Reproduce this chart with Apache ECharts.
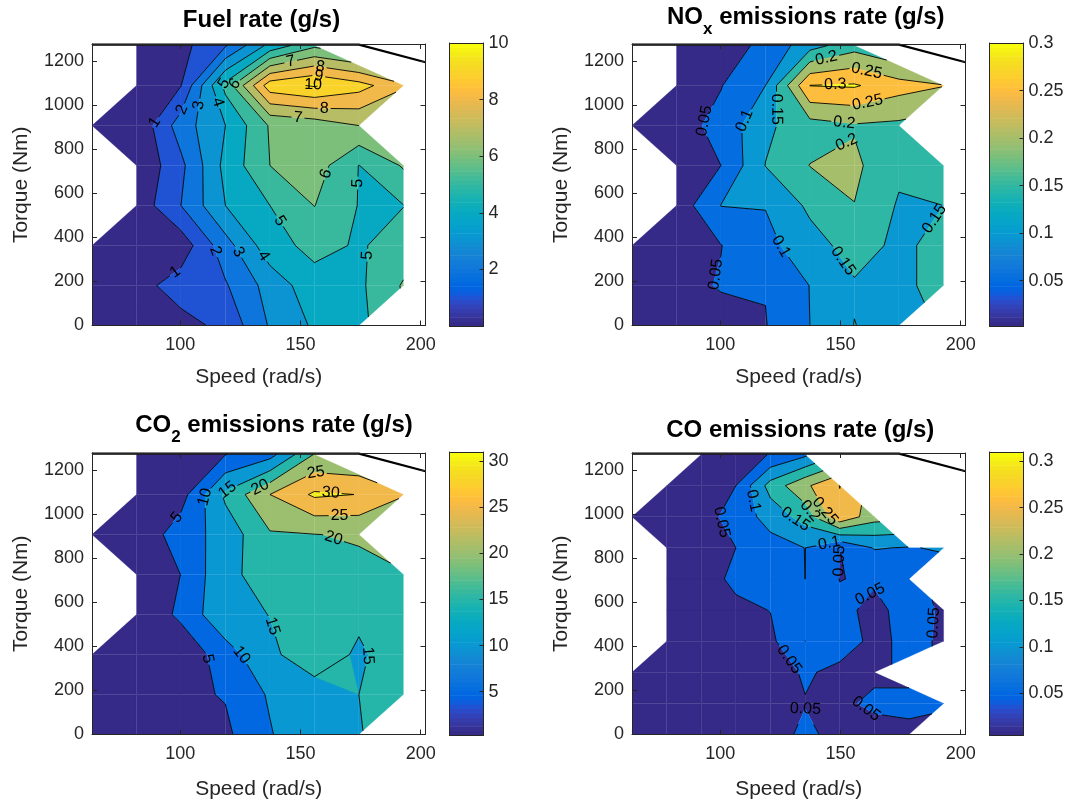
<!DOCTYPE html>
<html>
<head>
<meta charset="utf-8">
<title>Engine map contours</title>
<script src="https://cdn.jsdelivr.net/npm/echarts@6.0.0/dist/echarts.min.js"></script>
<style>
html, body { margin: 0; padding: 0; background: #ffffff; }
#chart { width: 1068px; height: 805px; }
</style>
</head>
<body>
<div id="chart"></div>
<script>
// ---------------- engine map data ----------------
// Speed (rad/s) and torque (Nm) breakpoints of the fuel / NOx / CO2 maps
const mapSpeed = [63.3, 81.8, 100.3, 118.8, 137.3, 155.8, 174.3, 192.8];
const mapTorque = [0, 181.4, 362.9, 544.3, 725.7, 907.1, 1088.6, 1270];

// one row per torque breakpoint (bottom to top), one column per speed; null = outside the map
const fuelRate = [
  [0.3, 0.5, 0.64, 1.27, 3.1, 4.15, 4.7, null],
  [0.3, 0.6, 1.48, 1.9, 3.4, 4.6, 4.8, 6.1],
  [0.3, 0.6, 0.4, 2.6, 4.6, 5.3, 4.9, 5.4],
  [null, 0.35, 2.0, 4.0, 5.0, 6.02, 4.96, 4.98],
  [null, 0.1, 1.75, 4.3, 6.0, 6.5, 4.98, 6.1],
  [0.1, 0.15, 2.5, 4.0, 6.1, 6.4, 7.0, null],
  [null, 0.5, 0.97, 5.3, 9.6, 10.1, 9.4, 8.2],
  [null, 0.5, 0.7, 1.9, 4.3, 5.8, null, null]
];
const noxRate = [
  [0.01, 0.02, 0.035, 0.048, 0.1, 0.151, 0.13, null],
  [0.012, 0.037, 0.053, 0.052, 0.101, 0.145, 0.14, 0.165],
  [0.013, 0.025, 0.049, 0.085, 0.13, 0.17, 0.14, 0.165],
  [null, 0.019, 0.101, 0.102, 0.16, 0.199, 0.145, 0.15],
  [null, 0.03, 0.05, 0.151, 0.201, 0.21, 0.16, 0.17],
  [0.01, 0.03, 0.065, 0.14, 0.18, 0.1955, 0.19, null],
  [null, 0.03, 0.048, 0.1, 0.301, 0.305, 0.27, 0.252],
  [null, 0.02, 0.03, 0.06, 0.13, 0.18, null, null]
];
const co2Rate = [
  [1.0, 1.6, 3.0, 4.06, 9.6, 14.5, 14.8, null],
  [1.0, 1.9, 4.0, 5.3, 10.6, 13.8, 15.0, 17.0],
  [1.0, 2.0, 1.5, 7.5, 14.5, 16.5, 14.6, 16.5],
  [null, 1.0, 6.0, 14.2, 15.05, 17.5, 15.5, 17.5],
  [null, 1.0, 5.05, 14.0, 16.7, 18.5, 18.8, 19.8],
  [0.5, 1.25, 7.5, 12.0, 19.5, 19.9, 20.5, null],
  [null, 1.5, 3.0, 16.0, 25.0, 30.8, 29.9, 25.5],
  [null, 1.5, 2.5, 4.9, 8.2, 20.3, null, null]
];

// CO map uses its own, finer breakpoints
const coSpeed = [63.3, 77.7, 92.1, 106.5, 120.9, 135.3, 149.7, 164.1, 178.5, 192.9];
const coTorque = [0, 141.1, 282.2, 423.3, 564.4, 705.6, 846.7, 987.8, 1128.9, 1270];
const coRate = [
  [0.02, 0.02, 0.02, 0.02, 0.03, 0.06, 0.035, 0.03, 0.04, null],
  [0.02, 0.02, 0.02, 0.02, 0.03, 0.048, 0.04, 0.06, 0.06, 0.055],
  [0.02, 0.02, 0.02, 0.02, 0.03, 0.055, 0.04, 0.04, null, null],
  [null, 0.02, 0.02, 0.03, 0.04, 0.1002, 0.07, 0.04, 0.06, 0.045],
  [null, 0.02, 0.02, 0.04, 0.051, 0.08, 0.06, 0.04, 0.065, 0.045],
  [null, 0.02, 0.03, 0.06, 0.07, 0.1001, 0.049, 0.055, 0.06, null],
  [null, 0.02, 0.03, 0.05, 0.08, 0.1005, 0.0499, 0.103, 0.097, 0.106],
  [0.02, 0.02, 0.03, 0.07, 0.12, 0.17, 0.29, 0.22, null, null],
  [null, 0.02, 0.03, 0.05, 0.17, 0.24, 0.301, null, null, null],
  [null, null, 0.02, 0.03, 0.052, 0.09, null, null, null, null]
];

// contour levels
const fuelLevels = [1, 2, 3, 4, 5, 6, 7, 8, 9, 10];
const noxLevels = [0.05, 0.1, 0.15, 0.2, 0.25, 0.3];
const co2Levels = [5, 10, 15, 20, 25, 30];
const coLevels = [0.05, 0.1, 0.15, 0.2, 0.25, 0.3];

// colour limits and colorbar ticks
const fuelColorRange = [0, 10];
const noxColorRange = [0.0024, 0.3];
const co2ColorRange = [0.3, 31];
const coColorRange = [0.005, 0.31];
const fuelBarTicks = [2, 4, 6, 8, 10];
const noxBarTicks = [0.05, 0.1, 0.15, 0.2, 0.25, 0.3];
const co2BarTicks = [5, 10, 15, 20, 25, 30];
const coBarTicks = [0.05, 0.1, 0.15, 0.2, 0.25, 0.3];

// axis ticks
const speedTicks = [100, 150, 200];
const torqueTicks = [0, 200, 400, 600, 800, 1000, 1200];
const speedRange = [63.3, 202];
const torqueRange = [0, 1277];

// full-load torque curve
const maxTorqueSpeed = [63.3, 174.3, 202];
const maxTorque = [1274, 1274, 1194];

// parula colormap, 64 entries
const PARULA = [
[0.2081,0.1663,0.5292],[0.2116,0.1898,0.5777],[0.2123,0.2138,0.6270],[0.2081,0.2386,0.6771],
[0.1959,0.2645,0.7279],[0.1707,0.2919,0.7792],[0.1253,0.3242,0.8303],[0.0591,0.3598,0.8683],
[0.0117,0.3875,0.8820],[0.0060,0.4086,0.8828],[0.0165,0.4266,0.8786],[0.0329,0.4430,0.8720],
[0.0498,0.4586,0.8641],[0.0629,0.4737,0.8554],[0.0723,0.4887,0.8467],[0.0779,0.5040,0.8384],
[0.0793,0.5200,0.8312],[0.0749,0.5375,0.8263],[0.0641,0.5570,0.8240],[0.0488,0.5772,0.8228],
[0.0343,0.5966,0.8199],[0.0265,0.6137,0.8135],[0.0239,0.6287,0.8038],[0.0231,0.6418,0.7913],
[0.0228,0.6535,0.7768],[0.0267,0.6642,0.7607],[0.0384,0.6743,0.7436],[0.0590,0.6838,0.7254],
[0.0843,0.6928,0.7062],[0.1133,0.7015,0.6859],[0.1453,0.7098,0.6646],[0.1801,0.7177,0.6424],
[0.2178,0.7250,0.6193],[0.2586,0.7317,0.5954],[0.3022,0.7376,0.5712],[0.3482,0.7424,0.5473],
[0.3953,0.7459,0.5244],[0.4420,0.7481,0.5033],[0.4871,0.7491,0.4840],[0.5300,0.7491,0.4661],
[0.5709,0.7485,0.4494],[0.6099,0.7473,0.4337],[0.6473,0.7456,0.4188],[0.6834,0.7435,0.4044],
[0.7184,0.7411,0.3905],[0.7525,0.7384,0.3768],[0.7858,0.7356,0.3633],[0.8185,0.7327,0.3498],
[0.8507,0.7299,0.3360],[0.8824,0.7274,0.3217],[0.9139,0.7258,0.3063],[0.9450,0.7261,0.2886],
[0.9739,0.7314,0.2666],[0.9938,0.7455,0.2403],[0.9990,0.7653,0.2164],[0.9955,0.7861,0.1967],
[0.9880,0.8066,0.1794],[0.9789,0.8271,0.1633],[0.9697,0.8481,0.1475],[0.9626,0.8705,0.1309],
[0.9589,0.8949,0.1132],[0.9598,0.9218,0.0948],[0.9661,0.9514,0.0755],[0.9763,0.9831,0.0538]
];

// ---------------- styling ----------------
const FONT = '"Liberation Sans", Arial, Helvetica, sans-serif';
const AX = '#262626';
const LABEL_FONT_SIZE = 16;
const LABEL_SPACING = 160;
const PLOT_W = 333.5, PLOT_H = 281.5, CB_W = 34;

const panels = [
  { title: [{t: 'Fuel rate (g/s)'}], speed: mapSpeed, torque: mapTorque, z: fuelRate,
    levels: fuelLevels, crange: fuelColorRange, barTicks: fuelBarTicks,
    left: 92, top: 44, cbLeft: 449.5, titleX: 261.5, titleY: 20.7, nameGapX: 41 },
  { title: [{t: 'NO'}, {t: 'x', sub: true}, {t: ' emissions rate (g/s)'}], speed: mapSpeed, torque: mapTorque, z: noxRate,
    levels: noxLevels, crange: noxColorRange, barTicks: noxBarTicks,
    left: 632, top: 44, cbLeft: 989.5, titleX: 805.8, titleY: 17.4, nameGapX: 41 },
  { title: [{t: 'CO'}, {t: '2', sub: true}, {t: ' emissions rate (g/s)'}], speed: mapSpeed, torque: mapTorque, z: co2Rate,
    levels: co2Levels, crange: co2ColorRange, barTicks: co2BarTicks,
    left: 92, top: 453, cbLeft: 449.5, titleX: 274, titleY: 425.7, nameGapX: 44 },
  { title: [{t: 'CO emissions rate (g/s)'}], speed: coSpeed, torque: coTorque, z: coRate,
    levels: coLevels, crange: coColorRange, barTicks: coBarTicks,
    left: 632, top: 453, cbLeft: 989.5, titleX: 800.3, titleY: 430.7, nameGapX: 44 }
];

// ---------------- helpers ----------------
const measureCtx = document.createElement('canvas').getContext('2d');
function textWidth(str, font) { measureCtx.font = font; return measureCtx.measureText(str).width; }
function fmtNum(v) { return String(parseFloat(Number(v).toFixed(4))); }

function cmapColor(value, range) {
  let k = Math.floor((value - range[0]) / (range[1] - range[0]) * PARULA.length);
  k = Math.max(0, Math.min(PARULA.length - 1, k));
  const c = PARULA[k];
  return 'rgb(' + Math.round(c[0] * 255) + ',' + Math.round(c[1] * 255) + ',' + Math.round(c[2] * 255) + ')';
}

// filled bands: below the first level, between levels, above the last level
function makeBands(levels, range) {
  const bands = [{lo: -Infinity, hi: levels[0], color: cmapColor(range[0], range)}];
  for (let k = 0; k < levels.length; k++) {
    bands.push({lo: levels[k], hi: k + 1 < levels.length ? levels[k + 1] : Infinity, color: cmapColor(levels[k], range)});
  }
  return bands;
}

// grid cells as polygons carrying node values; cells touching missing nodes are cut
function buildCells(S, T, Z) {
  const ni = S.length, nj = T.length;
  const inGrid = (i, j) => i >= 0 && i < ni && j >= 0 && j < nj;
  const ok = (i, j) => inGrid(i, j) && Z[j][i] !== null;
  const node = (i, j) => ({x: S[i], y: T[j], v: Z[j][i], id: 'n' + i + '_' + j});
  // side (+1/-1) of the neighbouring column that carries the cut across two cells, or 0
  function midSide(i, jn, jv) {
    const dj = jn - jv;
    for (const s of [-1, 1]) {
      const ip = i + s, iq = i - s;
      if (!inGrid(iq, jn) || !inGrid(ip, jn)) continue;
      if (ok(ip, jn) && ok(ip, jv) && !ok(iq, jn) && ok(iq, jv) &&
          (!inGrid(ip, jn + dj) || ok(ip, jn + dj))) return s;
    }
    return 0;
  }
  // edge midpoint, value continued with the vertical gradient of the neighbouring column
  const midPoint = (i, jn, jv, s) => ({
    x: S[i], y: (T[jn] + T[jv]) / 2,
    v: Z[jv][i] + 0.5 * (Z[jn][i + s] - Z[jv][i + s]),
    id: 'm' + i + '_' + Math.min(jn, jv)
  });
  const cells = [];
  for (let j = 0; j < nj - 1; j++) {
    for (let i = 0; i < ni - 1; i++) {
      const corners = [[i, j], [i + 1, j], [i + 1, j + 1], [i, j + 1]];
      const valid = corners.map(c => ok(c[0], c[1]));
      const nValid = valid.filter(Boolean).length;
      if (nValid < 2) continue;
      if (nValid === 2 && ((valid[0] && valid[2]) || (valid[1] && valid[3]))) continue;
      const pts = [];
      corners.forEach((c, k) => {
        if (valid[k]) { pts.push(node(c[0], c[1])); return; }
        const jv = c[1] === j ? j + 1 : j;
        if (!ok(c[0], jv)) return;
        const s = midSide(c[0], c[1], jv);
        if (s !== 0) pts.push(midPoint(c[0], c[1], jv, s));
      });
      if (pts.length >= 3) cells.push({pts, cx: (S[i] + S[i + 1]) / 2, cy: (T[j] + T[j + 1]) / 2});
    }
  }
  return cells;
}

function clipPoly(pts, level, keepAbove) {
  const out = [];
  const n = pts.length;
  for (let k = 0; k < n; k++) {
    const a = pts[k], b = pts[(k + 1) % n];
    const ina = keepAbove ? a.v >= level : a.v <= level;
    const inb = keepAbove ? b.v >= level : b.v <= level;
    if (ina) out.push(a);
    if (ina !== inb) {
      const t = (level - a.v) / (b.v - a.v);
      out.push({x: a.x + t * (b.x - a.x), y: a.y + t * (b.y - a.y), v: level});
    }
  }
  return out;
}

function cellSegments(pts, L) {
  const n = pts.length, cross = [];
  for (let k = 0; k < n; k++) {
    const a = pts[k], b = pts[(k + 1) % n];
    if ((a.v >= L) !== (b.v >= L)) {
      const t = (L - a.v) / (b.v - a.v);
      cross.push({x: a.x + t * (b.x - a.x), y: a.y + t * (b.y - a.y),
                  key: a.id < b.id ? a.id + '|' + b.id : b.id + '|' + a.id});
    }
  }
  if (cross.length === 2) return [[cross[0], cross[1]]];
  if (cross.length === 4) {
    if (n === 4) {
      const c = (pts[0].v + pts[1].v + pts[2].v + pts[3].v) / 4;
      if ((c >= L) === (pts[0].v >= L)) return [[cross[0], cross[1]], [cross[2], cross[3]]];
      return [[cross[3], cross[0]], [cross[1], cross[2]]];
    }
    return [[cross[0], cross[1]], [cross[2], cross[3]]];
  }
  return [];
}

// join cell segments into continuous contour lines
function joinSegments(segs) {
  const map = new Map();
  segs.forEach((s, i) => { for (const e of [0, 1]) { const k = s[e].key; if (!map.has(k)) map.set(k, []); map.get(k).push(i); } });
  const used = new Array(segs.length).fill(false);
  function walk(i0, e0) {
    const pts = [segs[i0][e0]];
    let idx = i0, from = e0;
    while (idx !== -1) {
      used[idx] = true;
      const other = segs[idx][1 - from];
      pts.push(other);
      const cand = map.get(other.key).filter(j => !used[j]);
      if (!cand.length) break;
      idx = cand[0];
      from = segs[idx][0].key === other.key ? 0 : 1;
    }
    return pts;
  }
  const lines = [];
  for (const [k, list] of map) {
    if (list.length === 1 && !used[list[0]]) {
      const i = list[0];
      lines.push(walk(i, segs[i][0].key === k ? 0 : 1));
    }
  }
  for (let i = 0; i < segs.length; i++) if (!used[i]) lines.push(walk(i, 0));
  return lines;
}

function contourLines(cells, levels) {
  const out = [];
  levels.forEach(L => {
    const segs = [];
    cells.forEach(c => cellSegments(c.pts, L).forEach(s => segs.push(s)));
    joinSegments(segs).forEach(pts => {
      const closed = pts.length > 3 && pts[0].key === pts[pts.length - 1].key;
      if (closed) {
        // start closed loops at their leftmost point
        const ring = pts.slice(0, -1);
        let m = 0;
        ring.forEach((p, k) => { if (p.x < ring[m].x) m = k; });
        pts = ring.slice(m).concat(ring.slice(0, m));
        pts.push(pts[0]);
      }
      out.push({pts, closed, text: fmtNum(L)});
    });
  });
  return out;
}

function pointAt(px, cum, s) {
  s = Math.max(0, Math.min(cum[cum.length - 1], s));
  let k = 1;
  while (k < cum.length - 1 && cum[k] < s) k++;
  const seg = cum[k] - cum[k - 1];
  const t = seg > 0 ? (s - cum[k - 1]) / seg : 0;
  return [px[k - 1][0] + t * (px[k][0] - px[k - 1][0]), px[k - 1][1] + t * (px[k][1] - px[k - 1][1])];
}
function subLine(px, cum, s0, s1) {
  const out = [pointAt(px, cum, s0)];
  for (let k = 1; k < px.length - 1; k++) if (cum[k] > s0 && cum[k] < s1) out.push(px[k]);
  out.push(pointAt(px, cum, s1));
  return out;
}

// ---------------- option assembly ----------------
const grid = [], xAxis = [], yAxis = [], series = [], graphic = [];
const labelFont = LABEL_FONT_SIZE + 'px ' + FONT;

function lineAxis(extra) {
  return Object.assign({
    type: 'value', z: 10,
    axisLine: {show: true, onZero: false, lineStyle: {color: AX, width: 1}},
    axisTick: {show: false}, axisLabel: {show: false}, splitLine: {show: false}
  }, extra);
}

panels.forEach(pn => {
  const gPlot = grid.length;
  grid.push({left: pn.left, top: pn.top, width: PLOT_W, height: PLOT_H});
  const gBar = grid.length;
  grid.push({left: pn.cbLeft, top: pn.top - 1, width: CB_W, height: PLOT_H + 1.5});

  const tick = vals => ({show: true, inside: true, length: 5, customValues: vals, lineStyle: {color: AX, width: 1}});
  const xi = xAxis.length;
  xAxis.push(lineAxis({gridIndex: gPlot, position: 'bottom', min: speedRange[0], max: speedRange[1],
    axisTick: tick(speedTicks),
    axisLabel: {show: true, customValues: speedTicks, margin: 11, color: AX, fontSize: 18, fontFamily: FONT,
                formatter: v => String(v)},
    name: 'Speed (rad/s)', nameLocation: 'middle', nameGap: pn.nameGapX,
    nameTextStyle: {color: AX, fontSize: 21, fontFamily: FONT}}));
  xAxis.push(lineAxis({gridIndex: gPlot, position: 'top', min: speedRange[0], max: speedRange[1], axisTick: tick(speedTicks)}));
  const yi = yAxis.length;
  yAxis.push(lineAxis({gridIndex: gPlot, position: 'left', min: torqueRange[0], max: torqueRange[1],
    axisTick: tick(torqueTicks),
    axisLabel: {show: true, customValues: torqueTicks, margin: 8, color: AX, fontSize: 18, fontFamily: FONT,
                formatter: v => String(v)},
    name: 'Torque (Nm)', nameLocation: 'middle', nameGap: 60,
    nameTextStyle: {color: AX, fontSize: 21, fontFamily: FONT}}));
  yAxis.push(lineAxis({gridIndex: gPlot, position: 'right', min: torqueRange[0], max: torqueRange[1], axisTick: tick(torqueTicks)}));

  const xb = xAxis.length;
  xAxis.push(lineAxis({gridIndex: gBar, position: 'bottom', min: 0, max: 1}));
  xAxis.push(lineAxis({gridIndex: gBar, position: 'top', min: 0, max: 1}));
  const yb = yAxis.length;
  yAxis.push(lineAxis({gridIndex: gBar, position: 'left', min: pn.crange[0], max: pn.crange[1]}));
  yAxis.push(lineAxis({gridIndex: gBar, position: 'right', min: pn.crange[0], max: pn.crange[1],
    axisTick: {show: true, inside: true, length: 4, customValues: pn.barTicks, lineStyle: {color: AX, width: 1}},
    axisLabel: {show: true, customValues: pn.barTicks, margin: 5, color: AX, fontSize: 18, fontFamily: FONT,
                formatter: v => fmtNum(v)}}));

  // filled contour bands
  const cells = buildCells(pn.speed, pn.torque, pn.z);
  const bands = makeBands(pn.levels, pn.crange);
  series.push({
    type: 'custom', coordinateSystem: 'cartesian2d', xAxisIndex: xi, yAxisIndex: yi,
    clip: true, silent: true, z: 2,
    data: cells.map((c, k) => [c.cx, c.cy, k]), encode: {x: 0, y: 1},
    renderItem: (params, api) => {
      const cell = cells[api.value(2)];
      const children = [];
      bands.forEach(b => {
        let poly = cell.pts;
        if (b.lo !== -Infinity) poly = clipPoly(poly, b.lo, true);
        if (poly.length >= 3 && b.hi !== Infinity) poly = clipPoly(poly, b.hi, false);
        if (poly.length < 3) return;
        children.push({type: 'polygon', shape: {points: poly.map(p => api.coord([p.x, p.y]))},
                       style: {fill: b.color, stroke: b.color, lineWidth: 0.25}});
      });
      return {type: 'group', children};
    }
  });

  // contour lines with inline labels
  const lines = contourLines(cells, pn.levels);
  series.push({
    type: 'custom', coordinateSystem: 'cartesian2d', xAxisIndex: xi, yAxisIndex: yi,
    clip: true, silent: true, z: 3,
    data: [[pn.speed[0], pn.torque[0]]], encode: {x: 0, y: 1},
    renderItem: (params, api) => {
      const children = [];
      const stroke = pts => ({type: 'polyline', shape: {points: pts}, style: {stroke: '#000', lineWidth: 0.9, fill: null}});
      lines.forEach(ln => {
        const px = ln.pts.map(p => api.coord([p.x, p.y]));
        const cum = [0];
        for (let k = 1; k < px.length; k++) cum.push(cum[k - 1] + Math.hypot(px[k][0] - px[k - 1][0], px[k][1] - px[k - 1][1]));
        const total = cum[cum.length - 1];
        const w = textWidth(ln.text, labelFont);
        const gaps = [];
        if (total > w + 10) {
          const n = Math.max(1, Math.round(total / LABEL_SPACING));
          const offset = ln.closed ? 0.25 : 0.5;
          for (let k = 0; k < n; k++) {
            const s = (k + offset) * total / n;
            const p0 = pointAt(px, cum, s - w / 2), p1 = pointAt(px, cum, s + w / 2), pc = pointAt(px, cum, s);
            let ang = Math.atan2(p1[1] - p0[1], p1[0] - p0[0]);
            if (ang > Math.PI / 2) ang -= Math.PI;
            if (ang < -Math.PI / 2) ang += Math.PI;
            children.push({type: 'text', x: pc[0], y: pc[1], rotation: -ang,
              style: {text: ln.text, fill: '#000', font: labelFont, align: 'center', verticalAlign: 'middle'}});
            gaps.push([s - w / 2 - 2, s + w / 2 + 2]);
          }
        }
        let start = 0;
        gaps.forEach(g => { if (g[0] > start) children.push(stroke(subLine(px, cum, start, g[0]))); start = Math.max(start, g[1]); });
        if (start < total) children.push(stroke(subLine(px, cum, start, total)));
      });
      return {type: 'group', children};
    }
  });

  // full-load torque curve
  series.push({
    type: 'line', xAxisIndex: xi, yAxisIndex: yi, clip: false, silent: true, z: 4,
    symbol: 'none', lineStyle: {color: '#000', width: 2.2},
    data: maxTorqueSpeed.map((s, k) => [s, maxTorque[k]])
  });

  // colorbar
  const nC = PARULA.length;
  const step = (pn.crange[1] - pn.crange[0]) / nC;
  series.push({
    type: 'custom', coordinateSystem: 'cartesian2d', xAxisIndex: xb, yAxisIndex: yb, silent: true, z: 2,
    data: PARULA.map((c, k) => [0.5, pn.crange[0] + (k + 0.5) * step, k]), encode: {x: 0, y: 1},
    renderItem: (params, api) => {
      const k = api.value(2);
      const a = api.coord([0, pn.crange[0] + k * step]);
      const b = api.coord([1, pn.crange[0] + (k + 1) * step]);
      const c = PARULA[k];
      const col = 'rgb(' + Math.round(c[0] * 255) + ',' + Math.round(c[1] * 255) + ',' + Math.round(c[2] * 255) + ')';
      return {type: 'rect', shape: {x: a[0], y: b[1], width: b[0] - a[0], height: a[1] - b[1] + 0.6},
              style: {fill: col}};
    }
  });

  // title, with subscripts where needed
  const mainFont = 'bold 24px ' + FONT, subFont = 'bold 17px ' + FONT;
  const widths = pn.title.map(part => textWidth(part.t, part.sub ? subFont : mainFont));
  let x = pn.titleX - widths.reduce((a, b) => a + b, 0) / 2;
  pn.title.forEach((part, k) => {
    graphic.push({type: 'text', x: x, y: pn.titleY + (part.sub ? 12 : 0), silent: true,
      style: {text: part.t, font: part.sub ? subFont : mainFont, fill: '#000', align: 'left', verticalAlign: 'middle'}});
    x += widths[k];
  });
});

const chart = echarts.init(document.getElementById('chart'), null, {renderer: 'canvas'});
chart.setOption({
  animation: false,
  backgroundColor: '#ffffff',
  grid, xAxis, yAxis, series, graphic
});
</script>
</body>
</html>
